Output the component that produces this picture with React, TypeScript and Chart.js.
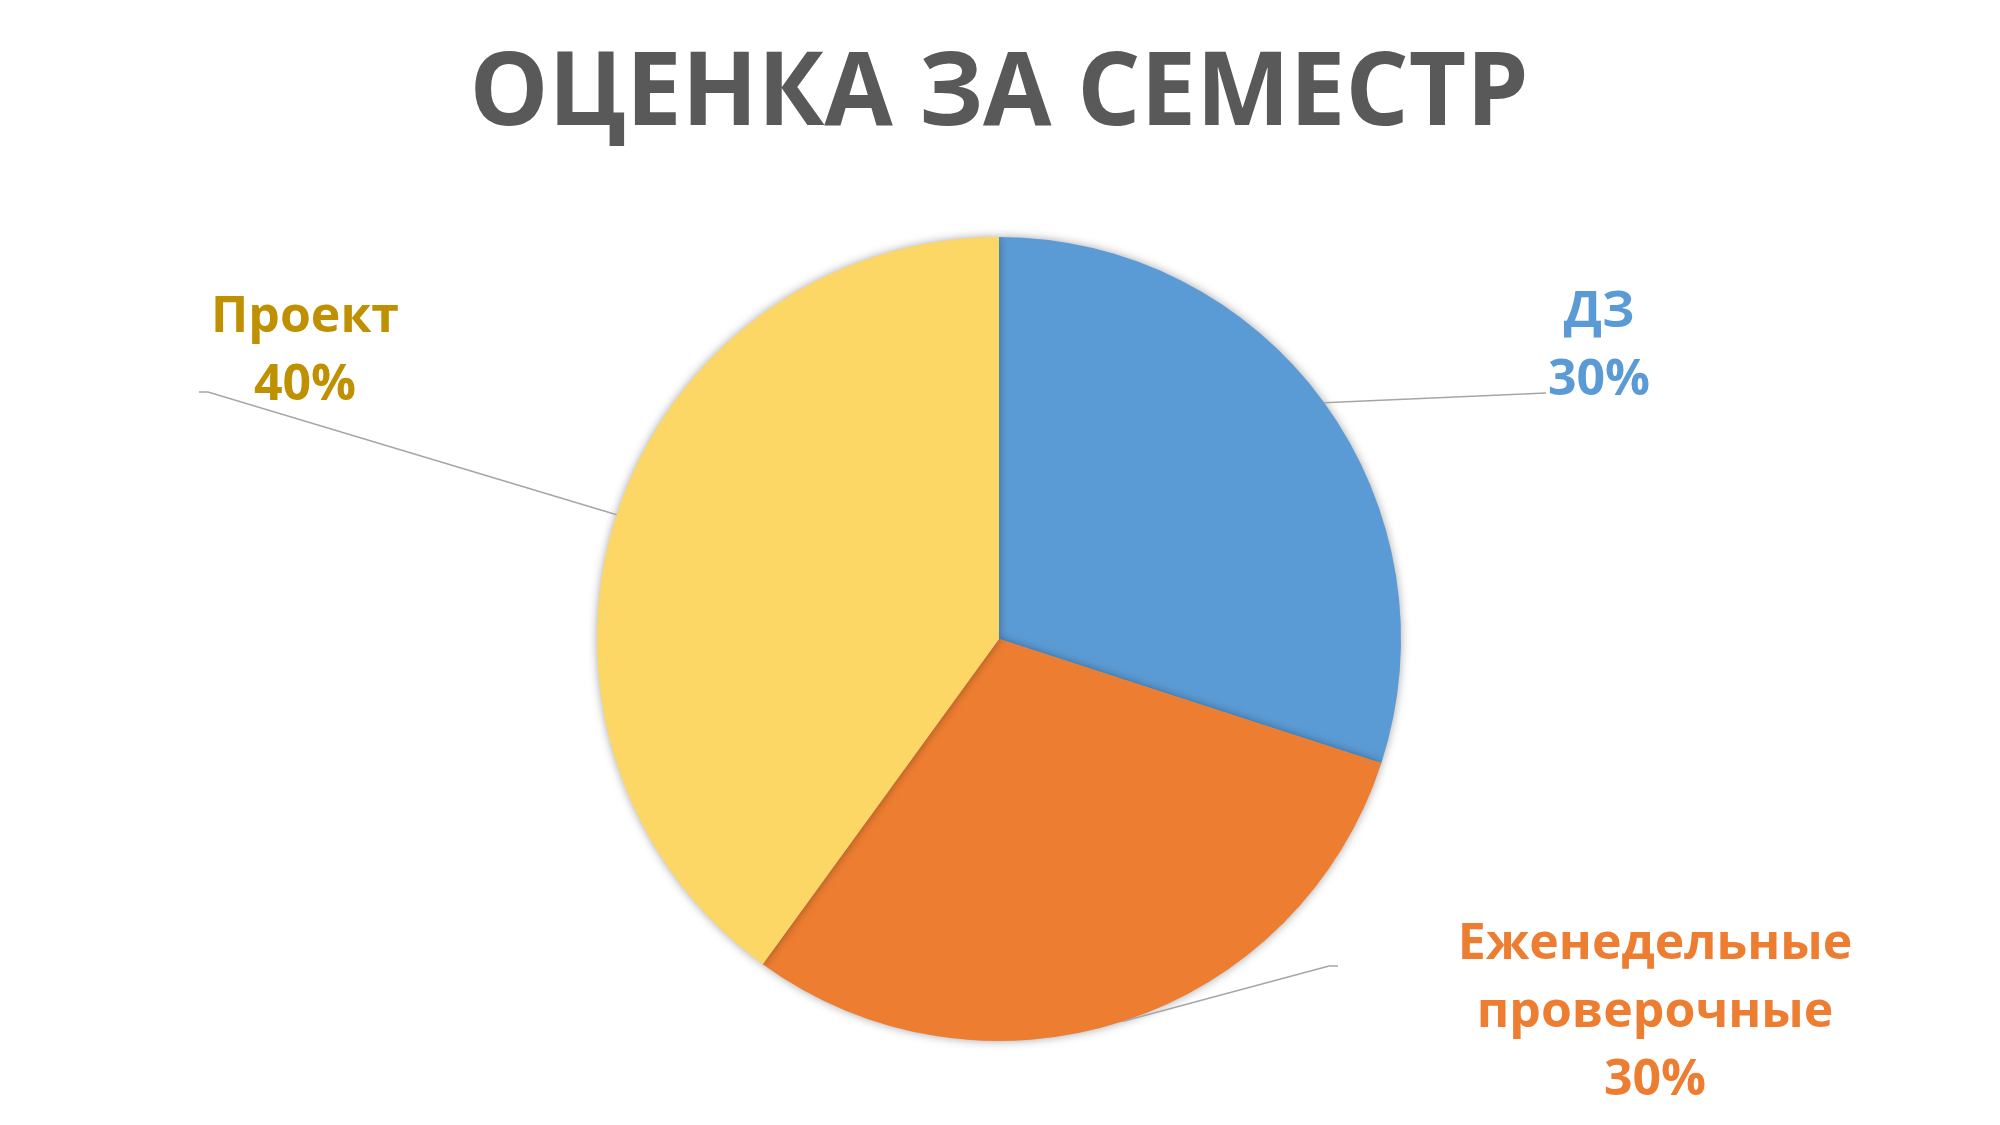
import React, { useEffect, useRef } from "react";
import { Chart, registerables } from "chart.js";

Chart.register(...registerables);

const titleText = "ОЦЕНКА ЗА СЕМЕСТР";
const categories = ["ДЗ", "Еженедельные проверочные", "Проект"];
const labelLines = [["ДЗ"], ["Еженедельные", "проверочные"], ["Проект"]];
const values = [30, 30, 40];
const sliceColors = ["#5B9BD5", "#ED7D31", "#FDD766"];
const labelColors = ["#5B9BD5", "#ED7D31", "#BF9000"];

// label layout relative to pie center (px)
const labelLayout = [
  { tx: 600, ty: -312, elbow: [547, -246], end: [547, -246] },
  { tx: 656, ty: 320, elbow: [330, 327], end: [339, 327] },
  { tx: -694, ty: -307, elbow: [-791, -247], end: [-800, -247] },
];

const FONT = "'Open Sans', 'DejaVu Sans', sans-serif";

const overlayPlugin = {
  id: "overlay",
  beforeDatasetsDraw(chart: any) {
    const ctx = chart.ctx;
    ctx.save();
    ctx.shadowColor = "rgba(0,0,0,0.35)";
    ctx.shadowBlur = 10;
    ctx.shadowOffsetX = 0;
    ctx.shadowOffsetY = 0;
  },
  afterDatasetsDraw(chart: any) {
    const ctx = chart.ctx;
    ctx.restore();
    const meta = chart.getDatasetMeta(0);
    const total = values.reduce((a, b) => a + b, 0);
    meta.data.forEach((arc: any, i: number) => {
      const { x, y, startAngle, endAngle, outerRadius } = arc.getProps(
        ["x", "y", "startAngle", "endAngle", "outerRadius"],
        true
      );
      const mid = (startAngle + endAngle) / 2;
      const ex = x + Math.cos(mid) * outerRadius;
      const ey = y + Math.sin(mid) * outerRadius;
      const L = labelLayout[i];
      ctx.save();
      ctx.strokeStyle = "#A6A6A6";
      ctx.lineWidth = 1.6;
      ctx.beginPath();
      ctx.moveTo(ex, ey);
      ctx.lineTo(x + L.elbow[0], y + L.elbow[1]);
      ctx.lineTo(x + L.end[0], y + L.end[1]);
      ctx.stroke();
      ctx.fillStyle = labelColors[i];
      ctx.font = `bold 50px ${FONT}`;
      ctx.textAlign = "center";
      ctx.textBaseline = "alphabetic";
      const lines = [...labelLines[i], `${Math.round((values[i] / total) * 100)}%`];
      lines.forEach((t, k) => {
        ctx.fillText(t, x + L.tx, y + L.ty + k * 68);
      });
      ctx.restore();
    });
    // title
    ctx.save();
    ctx.fillStyle = "#595959";
    ctx.font = `bold 102px ${FONT}`;
    ctx.textAlign = "center";
    ctx.textBaseline = "alphabetic";
    const w = ctx.measureText(titleText).width;
    const target = 1059;
    const sx = target / w;
    ctx.translate(999, 125);
    ctx.scale(sx, 1);
    ctx.fillText(titleText, 0, 0);
    ctx.restore();
  },
};

export default function App() {
  const ref = useRef<HTMLCanvasElement>(null);
  useEffect(() => {
    document.body.style.margin = "0";
    const canvas = ref.current!;
    const chart = new Chart(canvas, {
      type: "pie",
      data: {
        labels: categories,
        datasets: [
          {
            data: values,
            backgroundColor: sliceColors,
            borderWidth: 0,
          },
        ],
      },
      options: {
        responsive: false,
        animation: false,
        layout: { padding: { top: 237, bottom: 84, left: 0, right: 2 } },
        plugins: {
          legend: { display: false },
          tooltip: { enabled: false },
          title: { display: false },
        },
      },
      plugins: [overlayPlugin],
    });
    return () => chart.destroy();
  }, []);
  return (
    <div style={{ width: 2000, height: 1125, background: "#fff" }}>
      <canvas ref={ref} width={2000} height={1125} style={{ display: "block" }} />
    </div>
  );
}
